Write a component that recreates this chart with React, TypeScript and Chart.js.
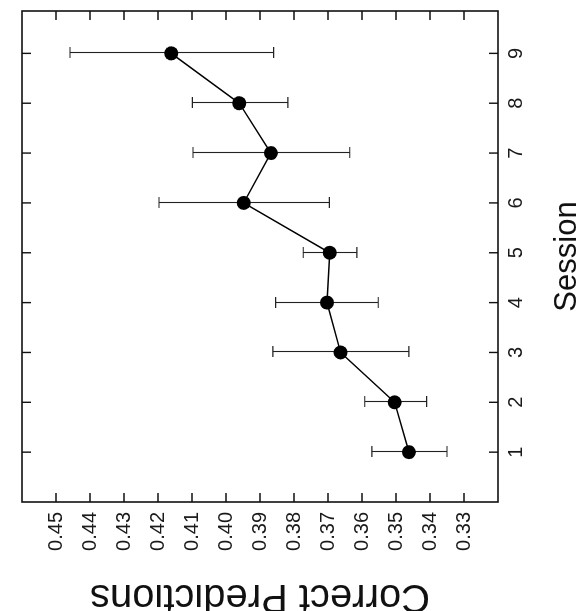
import React, { useEffect, useRef } from 'react';
import { Chart, registerables } from 'chart.js';

Chart.register(...registerables);

// ---- data ----
const sessions = [1, 2, 3, 4, 5, 6, 7, 8, 9];
const meanCorrect = [0.3462, 0.3504, 0.3663, 0.3703, 0.3695, 0.3948, 0.3868, 0.3961, 0.4161];
const upperBound = [0.3571, 0.3592, 0.3862, 0.3854, 0.3773, 0.4197, 0.4097, 0.4099, 0.4459];
const lowerBound = [0.3350, 0.3410, 0.3462, 0.3552, 0.3615, 0.3696, 0.3636, 0.3818, 0.3860];
const valueTicks = [0.33, 0.34, 0.35, 0.36, 0.37, 0.38, 0.39, 0.40, 0.41, 0.42, 0.43, 0.44, 0.45];
const xTitle = 'Session';
const yTitle = 'Correct Predictions';

const FONT = '"Liberation Sans", Arial, Helvetica, sans-serif';
const CW = 631; // canvas width (unrotated)
const CH = 600; // canvas height (unrotated)

export default function App() {
  const ref = useRef<HTMLCanvasElement>(null);

  useEffect(() => {
    if (!ref.current) return;

    const errorBars = {
      id: 'errorBars',
      beforeDatasetsDraw(chart: any) {
        const { ctx, scales } = chart;
        const x = scales.x;
        const y = scales.y;
        ctx.save();
        ctx.strokeStyle = '#222';
        ctx.lineWidth = 1.1;
        sessions.forEach((s, i) => {
          const px = Math.round(x.getPixelForValue(s)) + 0.5;
          const p1 = y.getPixelForValue(lowerBound[i]);
          const p2 = y.getPixelForValue(upperBound[i]);
          ctx.beginPath();
          ctx.moveTo(px, p1);
          ctx.lineTo(px, p2);
          ctx.moveTo(px - 5.5, p1);
          ctx.lineTo(px + 5.5, p1);
          ctx.moveTo(px - 5.5, p2);
          ctx.lineTo(px + 5.5, p2);
          ctx.stroke();
        });
        ctx.restore();
      },
    };

    const frame = {
      id: 'frame',
      afterDraw(chart: any) {
        const { ctx, chartArea: a, scales } = chart;
        const x = scales.x;
        const y = scales.y;
        const tl = 9;
        ctx.save();
        ctx.strokeStyle = '#111';
        ctx.lineWidth = 1.6;
        ctx.strokeRect(a.left, a.top, a.right - a.left, a.bottom - a.top);
        ctx.lineWidth = 1.4;
        ctx.beginPath();
        x.ticks.forEach((t: any) => {
          const px = x.getPixelForValue(t.value);
          ctx.moveTo(px, a.bottom);
          ctx.lineTo(px, a.bottom - tl);
          ctx.moveTo(px, a.top);
          ctx.lineTo(px, a.top + tl);
        });
        y.ticks.forEach((t: any) => {
          const py = y.getPixelForValue(t.value);
          ctx.moveTo(a.left, py);
          ctx.lineTo(a.left + tl, py);
          ctx.moveTo(a.right, py);
          ctx.lineTo(a.right - tl, py);
        });
        ctx.stroke();
        ctx.restore();
      },
    };

    const chart = new Chart(ref.current, {
      type: 'line',
      data: {
        datasets: [
          {
            data: sessions.map((s, i) => ({ x: s, y: meanCorrect[i] })),
            borderColor: '#000',
            borderWidth: 1.5,
            pointRadius: 7,
            pointBackgroundColor: '#000',
            pointBorderColor: '#000',
            pointBorderWidth: 0,
            tension: 0,
            fill: false,
          },
        ],
      },
      options: {
        responsive: false,
        animation: false,
        devicePixelRatio: 1,
        layout: { padding: { top: 11, right: 11, left: 0, bottom: 0 } },
        plugins: { legend: { display: false }, tooltip: { enabled: false } },
        scales: {
          x: {
            type: 'linear',
            min: 0,
            max: 9.85,
            afterBuildTicks: (s: any) => {
              s.ticks = sessions.map((v) => ({ value: v }));
            },
            afterFit: (s: any) => {
              s.height = 102;
            },
            grid: { display: false, drawTicks: false },
            border: { display: false },
            ticks: {
              padding: 6,
              color: '#1a1a1a',
              font: { family: FONT, size: 20 },
              maxRotation: 0,
              autoSkip: false,
            },
            title: {
              display: true,
              text: xTitle,
              color: '#111',
              font: { family: FONT, size: 31 },
              padding: { top: 0, bottom: 14 },
            },
          },
          y: {
            type: 'linear',
            min: 0.32,
            max: 0.46,
            afterBuildTicks: (s: any) => {
              s.ticks = valueTicks.map((v) => ({ value: v }));
            },
            afterFit: (s: any) => {
              s.width = 129;
            },
            grid: { display: false, drawTicks: false },
            border: { display: false },
            ticks: {
              padding: 10,
              color: '#1a1a1a',
              font: { family: FONT, size: 20 },
              autoSkip: false,
              callback: (v: any) => Number(v).toFixed(2),
            },
            title: {
              display: true,
              text: yTitle,
              color: '#111',
              font: { family: FONT, size: 40 },
              padding: { top: 11, bottom: 0 },
            },
          },
        },
      },
      plugins: [errorBars, frame],
    } as any);

    return () => chart.destroy();
  }, []);

  return (
    <div
      style={{
        position: 'fixed',
        left: 0,
        top: 0,
        width: 580,
        height: 611,
        overflow: 'hidden',
        background: '#fff',
      }}
    >
      <div
        style={{
          position: 'absolute',
          left: 0,
          top: 0,
          width: CW,
          height: CH,
          transformOrigin: '0 0',
          transform: `translateY(${CW}px) rotate(-90deg)`,
        }}
      >
        <canvas ref={ref} width={CW} height={CH} style={{ display: 'block', width: CW, height: CH }} />
      </div>
    </div>
  );
}
